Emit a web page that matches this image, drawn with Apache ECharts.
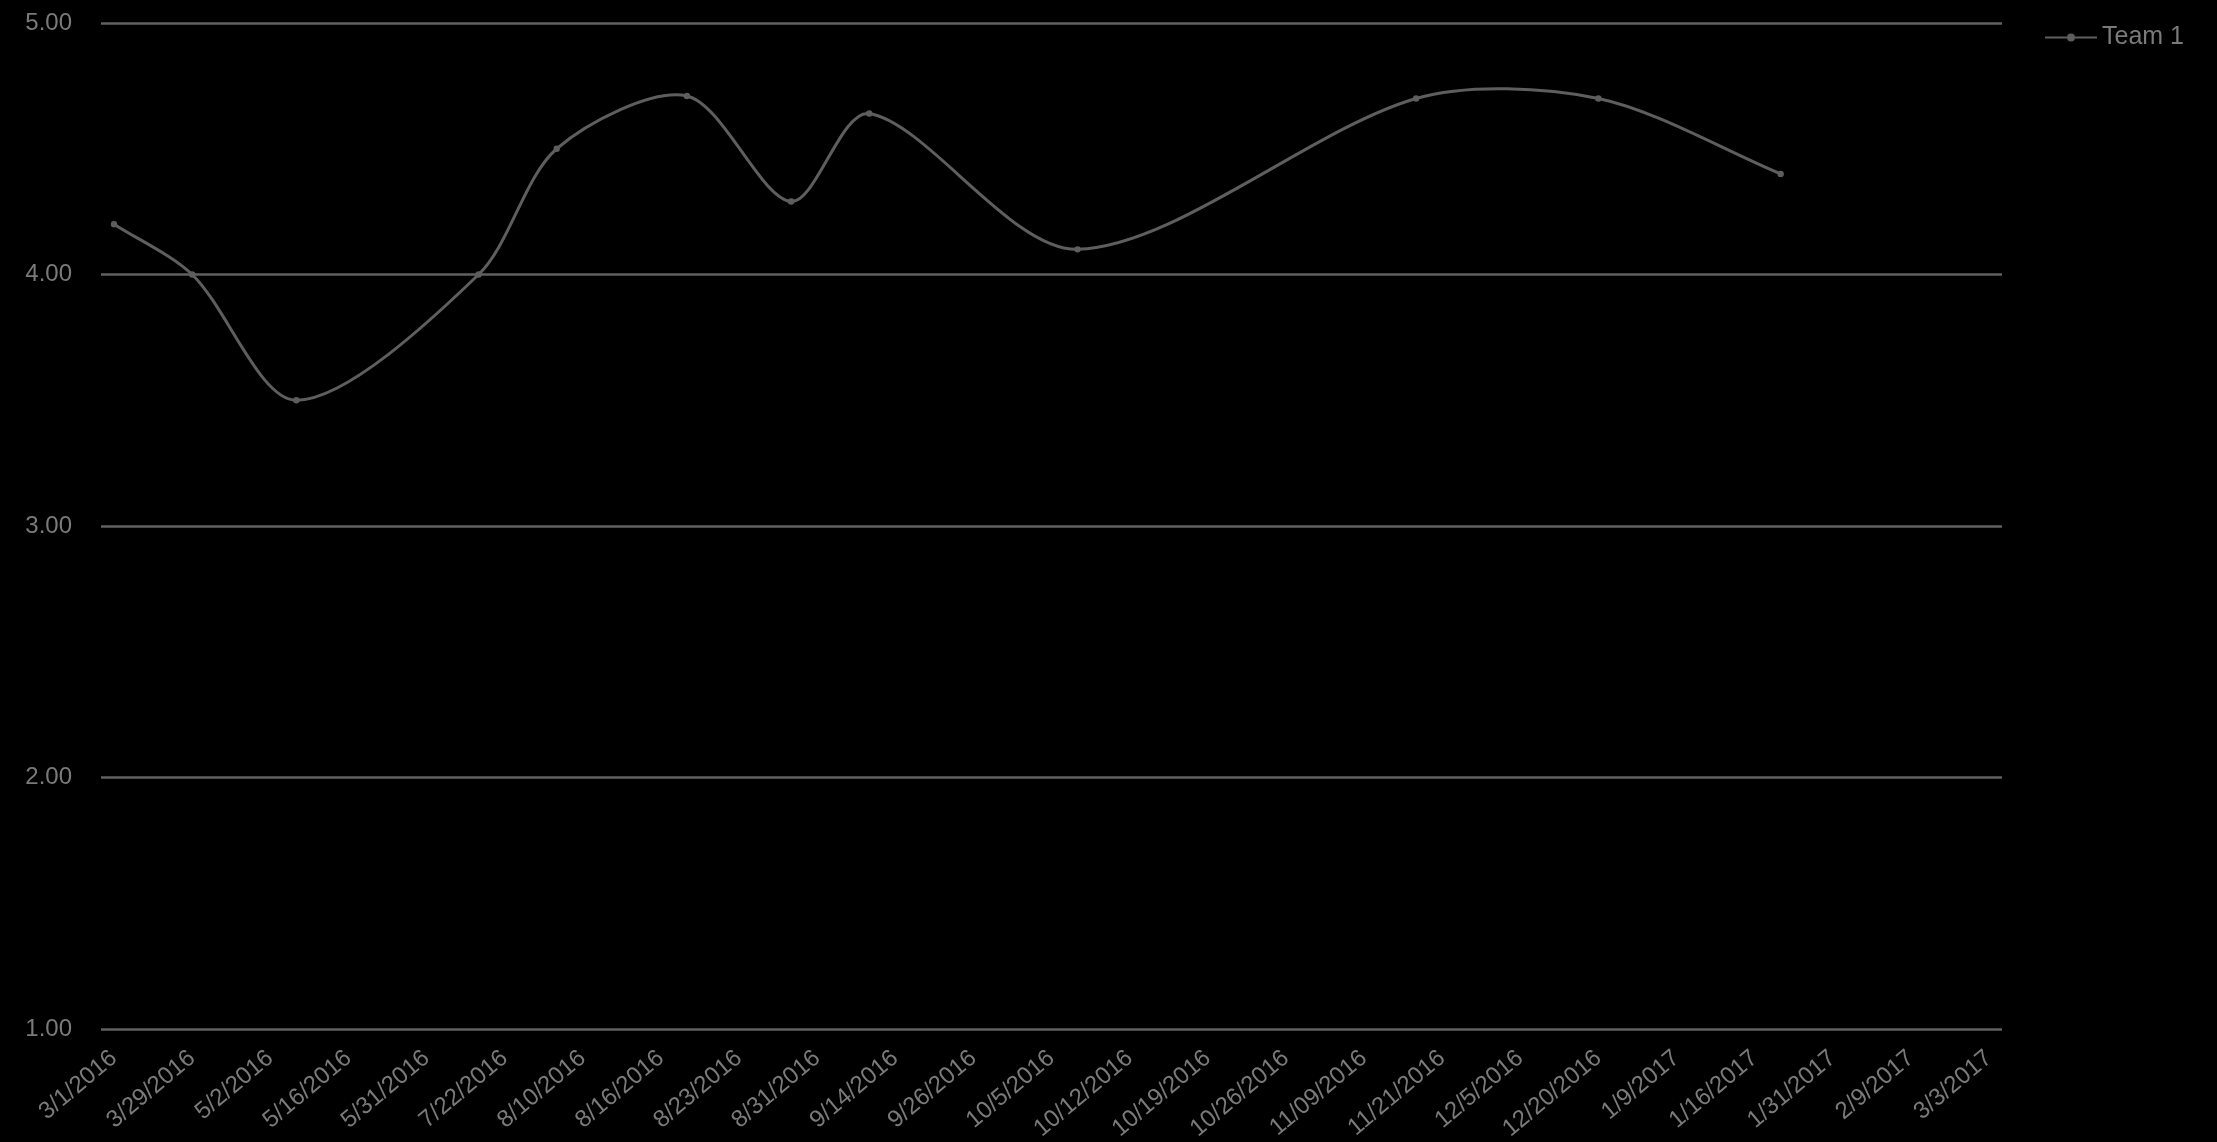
<!DOCTYPE html>
<html>
<head>
<meta charset="utf-8">
<title>Team 1</title>
<script src="https://cdn.jsdelivr.net/npm/echarts@6/dist/echarts.min.js"></script>
<style>
  html, body { margin: 0; padding: 0; background: #000; }
  #chart { width: 2217px; height: 1142px; }
</style>
</head>
<body>
<div id="chart"></div>
<script>
// Tick labels shown along the bottom (one every third period slot)
const tickLabels = [
  '3/1/2016', '3/29/2016', '5/2/2016', '5/16/2016', '5/31/2016', '7/22/2016',
  '8/10/2016', '8/16/2016', '8/23/2016', '8/31/2016', '9/14/2016', '9/26/2016',
  '10/5/2016', '10/12/2016', '10/19/2016', '10/26/2016', '11/09/2016', '11/21/2016',
  '12/5/2016', '12/20/2016', '1/9/2017', '1/16/2017', '1/31/2017', '2/9/2017', '3/3/2017'
];
const slotsPerTick = 3;

// Team 1 scores: period slot index and value
const teamSlots = [0, 3, 7, 14, 17, 22, 26, 29, 37, 50, 57, 64];
const teamValues = [4.20, 4.00, 3.50, 4.00, 4.50, 4.71, 4.29, 4.64, 4.10, 4.70, 4.70, 4.40];

// y-axis scale
const yMin = 1, yMax = 5, yStep = 1;

const slotCount = (tickLabels.length - 1) * slotsPerTick + 1;
const categories = Array.from({ length: slotCount }, (_, i) =>
  i % slotsPerTick === 0 ? tickLabels[i / slotsPerTick] : ''
);
const teamData = teamSlots.map((s, i) => [s, teamValues[i]]);

const lineColor = '#5e5e5e';
const gridColor = '#616161';
const textColor = '#7a7a7a';
const fontFamily = '"Liberation Sans", Arial, sans-serif';
const smoothness = 0.3;

// Smoothed curve: each item draws its own point and the cubic segment to the
// next point; tangents follow the neighbouring points (no flattening at peaks).
function renderSmoothSegment(params, api) {
  const i = params.dataIndex;
  const n = teamSlots.length;
  const pt = j => api.coord([teamSlots[j], teamValues[j]]);
  const cur = pt(i);

  function controls(k) {
    const p = pt(k);
    const prev = k > 0 ? pt(k - 1) : p;
    const next = k < n - 1 ? pt(k + 1) : p;
    const vx = next[0] - prev[0], vy = next[1] - prev[1];
    const lp = Math.hypot(p[0] - prev[0], p[1] - prev[1]);
    const ln = Math.hypot(next[0] - p[0], next[1] - p[1]);
    const r = (lp + ln) > 0 ? ln / (lp + ln) : 0.5;
    return {
      out: [p[0] + vx * smoothness * r, p[1] + vy * smoothness * r],
      inn: [p[0] - vx * smoothness * (1 - r), p[1] - vy * smoothness * (1 - r)]
    };
  }

  const children = [];
  if (i < n - 1) {
    const nxt = pt(i + 1);
    const c0 = controls(i).out;
    const c1 = controls(i + 1).inn;
    children.push({
      type: 'bezierCurve',
      shape: {
        x1: cur[0], y1: cur[1], x2: nxt[0], y2: nxt[1],
        cpx1: c0[0], cpy1: c0[1], cpx2: c1[0], cpy2: c1[1]
      },
      style: { stroke: lineColor, lineWidth: 3, fill: null, lineCap: 'round' },
      z2: 1
    });
  }
  children.push({
    type: 'circle',
    shape: { cx: cur[0], cy: cur[1], r: 3.2 },
    style: { fill: lineColor },
    z2: 2
  });
  return { type: 'group', children };
}

const chart = echarts.init(document.getElementById('chart'), null, { renderer: 'canvas' });
chart.setOption({
  backgroundColor: '#000',
  animation: false,
  textStyle: { fontFamily },
  grid: { left: 101, right: 215, top: 23, bottom: 113, outerBoundsMode: 'none' },
  legend: {
    data: [{
      name: 'Team 1',
      icon: 'path://M0,4H52V6H0Z M22,5A4,4 0 1 1 30,5A4,4 0 1 1 22,5Z'
    }],
    right: 28,
    top: 20,
    itemWidth: 52,
    itemHeight: 10,
    itemGap: 10,
    textStyle: { color: textColor, fontSize: 25, fontFamily }
  },
  xAxis: {
    type: 'category',
    data: categories,
    boundaryGap: true,
    axisLine: { show: false },
    axisTick: { show: false },
    splitLine: { show: false },
    axisLabel: {
      interval: slotsPerTick - 1,
      rotate: 40,
      margin: 26,
      color: textColor,
      fontSize: 24,
      fontFamily
    }
  },
  yAxis: {
    type: 'value',
    min: yMin,
    max: yMax,
    interval: yStep,
    axisLine: { show: false },
    axisTick: { show: false },
    splitLine: { show: true, lineStyle: { color: gridColor, width: 2.5 } },
    axisLabel: {
      margin: 29,
      color: textColor,
      fontSize: 24,
      fontFamily,
      formatter: v => v.toFixed(2)
    }
  },
  series: [{
    name: 'Team 1',
    type: 'custom',
    coordinateSystem: 'cartesian2d',
    data: teamData,
    encode: { x: 0, y: 1 },
    itemStyle: { color: lineColor },
    renderItem: renderSmoothSegment
  }]
});
</script>
</body>
</html>
